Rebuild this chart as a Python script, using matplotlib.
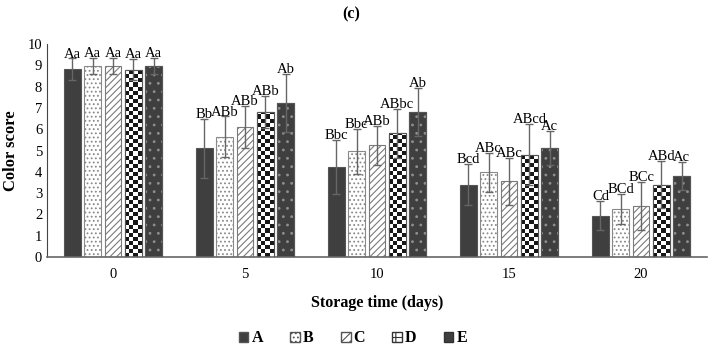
import numpy as np
import matplotlib
matplotlib.use("Agg")
import matplotlib.pyplot as plt
from matplotlib.patches import Patch

plt.rcParams['font.family'] = ['Liberation Serif', 'DejaVu Serif']
plt.rcParams['hatch.linewidth'] = 0.8

days = ["0", "5", "10", "15", "20"]
groups = ["A", "B", "C", "D", "E"]

# mean colour score per treatment (rows) and storage day (columns)
A = [8.82, 5.10, 4.23, 3.40, 1.95]
B = [8.97, 5.65, 4.96, 3.97, 2.25]
C = [8.97, 6.10, 5.24, 3.55, 2.39]
D = [8.80, 6.81, 5.82, 4.81, 3.40]
E = [8.97, 7.23, 6.81, 5.10, 3.81]

A_err = [0.50, 1.40, 1.25, 0.95, 0.67]
B_err = [0.38, 0.95, 1.06, 0.93, 0.70]
C_err = [0.38, 1.00, 0.90, 1.10, 1.12]
D_err = [0.50, 0.75, 1.15, 1.45, 1.10]
E_err = [0.38, 1.35, 1.12, 0.80, 0.65]

A_lab = ["Aa", "Bb", "Bbc", "Bcd", "Cd"]
B_lab = ["Aa", "ABb", "Bbc", "ABc", "BCd"]
C_lab = ["Aa", "ABb", "ABb", "ABc", "BCc"]
D_lab = ["Aa", "ABb", "ABbc", "ABcd", "ABd"]
E_lab = ["Aa", "Ab", "Ab", "Ac", "Ac"]

values = [A, B, C, D, E]
errors = [A_err, B_err, C_err, D_err, E_err]
labels = [A_lab, B_lab, C_lab, D_lab, E_lab]

fig = plt.figure(figsize=(7.09, 3.46), dpi=100)
ax = fig.add_axes([0.0663, 0.257, 0.931, 0.616])

x = np.arange(len(days))
pitch = 0.154
width = 0.125
edge = "#555555"
dark = "#3f3f3f"

for i, (vals, errs, labs) in enumerate(zip(values, errors, labels)):
    xs = x + (i - 2) * pitch
    if i == 0:
        bars = ax.bar(xs, vals, width, color=dark, edgecolor=edge, linewidth=0.8, zorder=2)
    elif i == 1:
        bars = ax.bar(xs, vals, width, color="white", edgecolor="#8a8a8a",
                      hatch="....", linewidth=0.8, zorder=2)
    elif i == 2:
        bars = ax.bar(xs, vals, width, color="white", edgecolor="#7a7a7a",
                      hatch="/////", linewidth=0.8, zorder=2)
    elif i == 3:
        bars = ax.bar(xs, vals, width, color="white", edgecolor=edge, linewidth=0.8, zorder=2)
        # checkerboard fill, clipped to each bar
        for b in bars:
            x0 = b.get_x()
            h = b.get_height()
            ny = int(np.ceil(h / 0.19))
            nx = 4
            checker = (np.add.outer(np.arange(ny), np.arange(nx)) % 2).astype(float)
            im = ax.imshow(checker, cmap="gray", extent=[x0, x0 + width, ny * 0.19, 0],
                           aspect="auto", interpolation="nearest", zorder=2.5,
                           vmin=-0.1, vmax=1)
            im.set_clip_path(b)
        ax.bar(xs, vals, width, color="none", edgecolor=edge, linewidth=0.8, zorder=3)
    else:
        bars = ax.bar(xs, vals, width, color=dark, edgecolor=edge, linewidth=0.8, zorder=2)
        ax.bar(xs, vals, width, color="none", edgecolor="#8f8f8f", hatch="..",
               linewidth=0, zorder=2.6)
        ax.bar(xs, vals, width, color="none", edgecolor=edge, linewidth=0.8, zorder=3)
    ax.errorbar(xs, vals, yerr=errs, fmt="none", ecolor="#666666", elinewidth=1,
                capsize=3, capthick=1, zorder=4)
    for xi, v, e, t in zip(xs, vals, errs, labs):
        ax.text(xi, v + e - 0.1, t, ha="center", va="bottom", fontsize=10.5, zorder=5)

ax.set_xlim(-0.5, 4.5)
ax.set_ylim(0, 10)
ax.set_yticks(range(0, 11))
ax.set_xticks(x)
ax.set_xticklabels(days)
ax.tick_params(axis="both", length=0, labelsize=10.5)
ax.tick_params(axis="x", pad=8)
for s in ["top", "right"]:
    ax.spines[s].set_visible(False)
ax.spines["left"].set_color("#444444")
ax.spines["bottom"].set_color("#666666")
ax.spines["bottom"].set_linewidth(1.2)

ax.set_ylabel("Color score", fontsize=12, fontweight="bold", labelpad=6)
ax.set_xlabel("Storage time (days)", fontsize=11.5, fontweight="bold", labelpad=10)
fig.text(0.495, 0.957, "(c)", ha="center", va="center", fontsize=11.5, fontweight="bold")

handles = [
    Patch(facecolor=dark, edgecolor=edge),
    Patch(facecolor="white", edgecolor="#555555", hatch="...."),
    Patch(facecolor="white", edgecolor="#555555", hatch="////"),
    Patch(facecolor="white", edgecolor="#333333", hatch="++"),
    Patch(facecolor=dark, edgecolor="#333333"),
]
leg = fig.legend(handles, groups, loc="center", bbox_to_anchor=(0.498, 0.022), ncol=5,
                 frameon=False, handlelength=0.6, handleheight=0.6, handletextpad=0.2,
                 columnspacing=1.7, prop={"weight": "bold", "size": 11.5})

fig.savefig("out.png", dpi=100)
